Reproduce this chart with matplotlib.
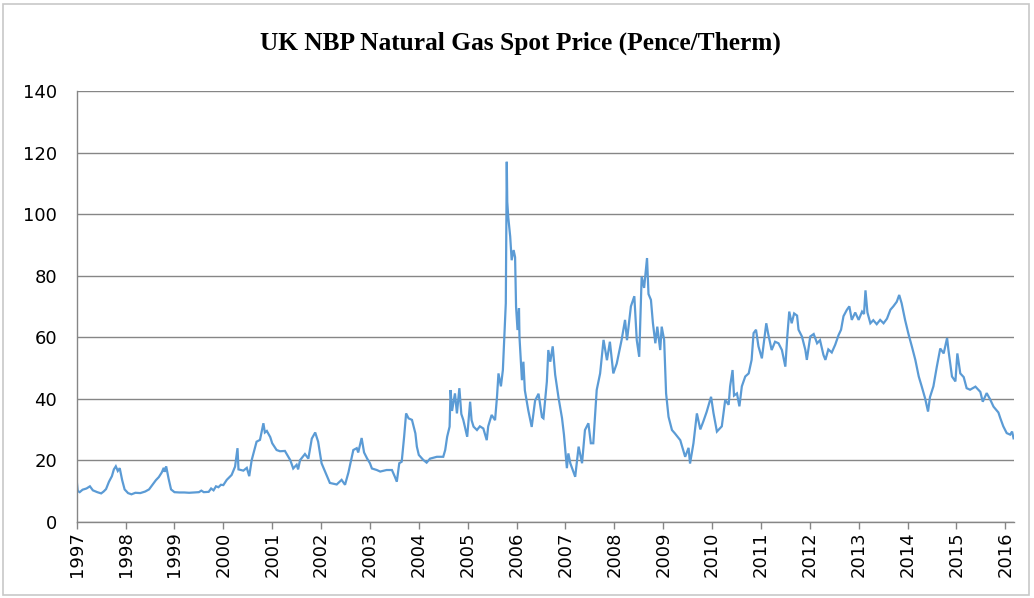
import matplotlib
matplotlib.use("Agg")
import matplotlib.pyplot as plt
from matplotlib.patches import Rectangle

TITLE = "UK NBP Natural Gas Spot Price (Pence/Therm)"

# (decimal year, pence/therm)
years = [
    1997.00, 1997.02, 1997.06, 1997.12, 1997.20, 1997.27, 1997.33, 1997.42, 1997.50, 1997.55,
    1997.60, 1997.66, 1997.72, 1997.76, 1997.80, 1997.84, 1997.88, 1997.93, 1997.98,
    1998.05, 1998.12, 1998.20, 1998.30, 1998.40, 1998.48, 1998.55, 1998.62, 1998.68, 1998.74,
    1998.78, 1998.80, 1998.83, 1998.88, 1998.93, 1999.00,
    1999.10, 1999.20, 1999.30, 1999.40, 1999.50, 1999.55, 1999.60, 1999.70, 1999.75, 1999.80,
    1999.85, 1999.90, 1999.95,
    2000.00, 2000.07, 2000.17, 2000.24, 2000.29, 2000.31, 2000.41, 2000.48, 2000.53, 2000.58,
    2000.68, 2000.75, 2000.82, 2000.85, 2000.89, 2000.96,
    2001.00, 2001.09, 2001.16, 2001.26, 2001.37, 2001.43, 2001.50, 2001.53, 2001.57, 2001.67,
    2001.74, 2001.81, 2001.88, 2001.94,
    2002.01, 2002.12, 2002.18, 2002.32, 2002.42, 2002.49, 2002.56, 2002.66, 2002.73, 2002.76,
    2002.83, 2002.88, 2002.94,
    2003.00, 2003.04, 2003.14, 2003.21, 2003.34, 2003.45, 2003.51, 2003.55, 2003.60, 2003.65,
    2003.70, 2003.74, 2003.79, 2003.86, 2003.93, 2003.96,
    2004.00, 2004.09, 2004.16, 2004.23, 2004.37, 2004.50, 2004.54, 2004.58, 2004.63, 2004.65,
    2004.68, 2004.74, 2004.78, 2004.83, 2004.87, 2004.91, 2004.99,
    2005.05, 2005.08, 2005.12, 2005.19, 2005.25, 2005.32, 2005.39, 2005.42, 2005.49, 2005.56,
    2005.60, 2005.63, 2005.68, 2005.72, 2005.75, 2005.78, 2005.80, 2005.81, 2005.83, 2005.87,
    2005.90, 2005.94, 2005.97, 2005.99,
    2006.02, 2006.05, 2006.06, 2006.11, 2006.14, 2006.17, 2006.24, 2006.31, 2006.38, 2006.45,
    2006.52, 2006.55, 2006.62, 2006.65, 2006.69, 2006.74, 2006.79, 2006.86, 2006.93, 2006.97,
    2007.03, 2007.06, 2007.10, 2007.20, 2007.27, 2007.34, 2007.40, 2007.47, 2007.52, 2007.57,
    2007.64, 2007.71, 2007.78, 2007.85, 2007.91, 2007.98,
    2008.05, 2008.15, 2008.22, 2008.26, 2008.34, 2008.41, 2008.46, 2008.51, 2008.56, 2008.61,
    2008.67, 2008.70, 2008.75, 2008.79, 2008.84, 2008.88, 2008.94, 2008.97,
    2009.02, 2009.06, 2009.11, 2009.18, 2009.24, 2009.35, 2009.45, 2009.52, 2009.55, 2009.62,
    2009.69, 2009.76, 2009.82, 2009.89, 2009.98,
    2010.03, 2010.10, 2010.20, 2010.27, 2010.34, 2010.37, 2010.42, 2010.45, 2010.51, 2010.56,
    2010.61, 2010.68, 2010.75, 2010.81, 2010.85, 2010.90, 2010.95,
    2011.02, 2011.11, 2011.15, 2011.22, 2011.29, 2011.36, 2011.43, 2011.50, 2011.54, 2011.58,
    2011.63, 2011.68, 2011.74, 2011.77, 2011.84, 2011.91, 2011.94,
    2012.01, 2012.08, 2012.15, 2012.21, 2012.28, 2012.32, 2012.38, 2012.45, 2012.52, 2012.59,
    2012.64, 2012.69, 2012.76, 2012.81, 2012.86, 2012.93,
    2013.00, 2013.07, 2013.11, 2013.14, 2013.18, 2013.24, 2013.30, 2013.37, 2013.44, 2013.51,
    2013.58, 2013.65, 2013.71, 2013.78, 2013.83, 2013.88, 2013.95,
    2014.02, 2014.09, 2014.16, 2014.23, 2014.29, 2014.36, 2014.42, 2014.46, 2014.53, 2014.60,
    2014.67, 2014.74, 2014.81, 2014.84, 2014.91, 2014.98,
    2015.02, 2015.08, 2015.15, 2015.21, 2015.28, 2015.39, 2015.49, 2015.54, 2015.62, 2015.69,
    2015.76, 2015.86, 2015.90, 2015.96,
    2016.03, 2016.10, 2016.14, 2016.17,
]
price = [
    13.3, 10.0, 9.6, 10.4, 10.8, 11.5, 10.2, 9.6, 9.2, 9.8,
    10.6, 13.0, 14.8, 17.0, 18.0, 16.5, 17.4, 13.5, 10.5,
    9.3, 8.9, 9.4, 9.3, 9.8, 10.5, 12.0, 13.5, 14.5, 16.0,
    17.5, 16.2, 18.0, 14.0, 10.5, 9.6,
    9.5, 9.5, 9.4, 9.5, 9.6, 10.1, 9.6, 9.7, 10.8, 10.2,
    11.5, 11.2, 12.0,
    11.9, 13.6, 15.2, 17.9, 23.9, 17.0, 16.6, 17.5, 14.8, 20.0,
    26.0, 26.6, 32.0, 29.0, 29.5, 27.5,
    25.5, 23.3, 22.9, 23.0, 20.0, 17.3, 18.5, 17.0, 20.0, 22.0,
    20.5, 27.0, 29.0, 26.0,
    19.0, 14.8, 12.6, 12.1, 13.6, 12.0, 16.0, 23.3, 23.9, 22.5,
    27.2, 22.5, 20.6,
    19.0, 17.3, 16.8, 16.3, 16.8, 16.8, 14.6, 13.0, 19.0, 19.5,
    27.7, 35.2, 33.6, 33.1, 28.7, 24.4,
    21.7, 20.1, 19.2, 20.5, 21.1, 21.1, 23.3, 27.6, 30.9, 42.8,
    36.0, 41.7, 35.2, 43.4, 35.0, 33.1, 27.6,
    39.0, 33.0, 30.9, 29.8, 31.0, 30.3, 26.5, 31.0, 34.7, 33.0,
    40.6, 48.2, 44.0, 49.3, 60.2, 71.0, 117.0, 104.0, 99.0, 92.7,
    85.0, 88.3, 86.0, 69.9,
    62.3, 69.4, 60.0, 46.0, 52.0, 42.7, 36.2, 30.8, 39.4, 41.6,
    34.0, 33.6, 45.5, 55.8, 52.0, 57.0, 47.8, 40.2, 33.7, 28.3,
    17.4, 22.2, 19.0, 14.6, 24.4, 19.0, 29.8, 32.0, 25.5, 25.5,
    42.8, 48.2, 59.1, 52.5, 58.5, 48.2,
    51.4, 59.1, 65.6, 59.0, 70.0, 73.3, 59.0, 53.6, 79.7, 76.0,
    85.7, 74.0, 72.1, 64.6, 58.0, 63.4, 55.8, 63.4,
    59.1, 41.7, 34.1, 29.8, 28.7, 26.5, 21.1, 24.0, 18.9, 25.5,
    35.2, 30.0, 32.5, 35.7, 40.6,
    35.3, 29.3, 31.0, 39.6, 38.0, 44.0, 49.3, 41.0, 41.7, 37.5,
    44.0, 47.2, 48.2, 52.6, 61.3, 62.4, 57.0,
    53.1, 64.5, 61.0, 55.8, 58.5, 58.0, 55.8, 50.4, 60.2, 68.3,
    64.5, 67.7, 67.0, 62.4, 60.2, 55.8, 52.6,
    60.2, 61.0, 58.0, 59.0, 54.2, 52.6, 56.0, 55.0, 57.5, 60.7,
    62.4, 66.8, 68.9, 70.0, 65.6, 68.0,
    65.6, 68.3, 67.5, 75.2, 68.0, 64.5, 65.5, 64.2, 65.6, 64.5,
    66.0, 68.9, 70.0, 71.5, 73.7, 71.0, 65.6,
    61.0, 56.9, 52.6, 47.2, 44.0, 40.1, 35.8, 40.5, 44.0, 50.4,
    56.3, 54.7, 59.7, 55.5, 47.2, 45.6,
    54.7, 48.2, 47.0, 43.4, 42.9, 43.9, 42.2, 39.0, 41.8, 39.8,
    37.4, 35.5, 33.6, 31.0,
    28.8, 28.3, 29.3, 27.1,
]
tick_years = list(range(1997, 2017))
y_ticks = list(range(0, 141, 20))

fig = plt.figure(figsize=(10.34, 5.98), dpi=100)
ax = fig.add_axes([0.0742, 0.1276, 0.9065, 0.7202])

# light frame round the whole chart, as in the Excel export
fig.patches.append(Rectangle((0.003, 0.005), 0.992, 0.988, transform=fig.transFigure,
                             fill=False, edgecolor="#c8c8c8", lw=1.2))

ax.plot(years, price, color="#5b9bd5", lw=1.6, solid_joinstyle="miter")

ax.set_xlim(1997, 2016.18)
ax.set_ylim(0, 140)
ax.set_xticks(tick_years)
ax.set_xticklabels([str(y) for y in tick_years], rotation=90, fontsize=13,
                   family="DejaVu Sans")
ax.set_yticks(y_ticks)
ax.set_yticklabels([str(v) for v in y_ticks], fontsize=13, family="DejaVu Sans")
ax.tick_params(axis="x", length=5, width=1, color="#868686", pad=2)
ax.tick_params(axis="y", length=0, pad=14)

ax.grid(axis="y", color="#868686", lw=1)
ax.set_axisbelow(True)
for side in ("top", "right"):
    ax.spines[side].set_visible(False)
for side in ("left", "bottom"):
    ax.spines[side].set_color("#868686")
    ax.spines[side].set_linewidth(1)

fig.text(0.503, 0.928, TITLE, ha="center", va="center", fontsize=18.3,
         fontweight="bold", family="Liberation Serif")

fig.savefig("out.png", dpi=100)
